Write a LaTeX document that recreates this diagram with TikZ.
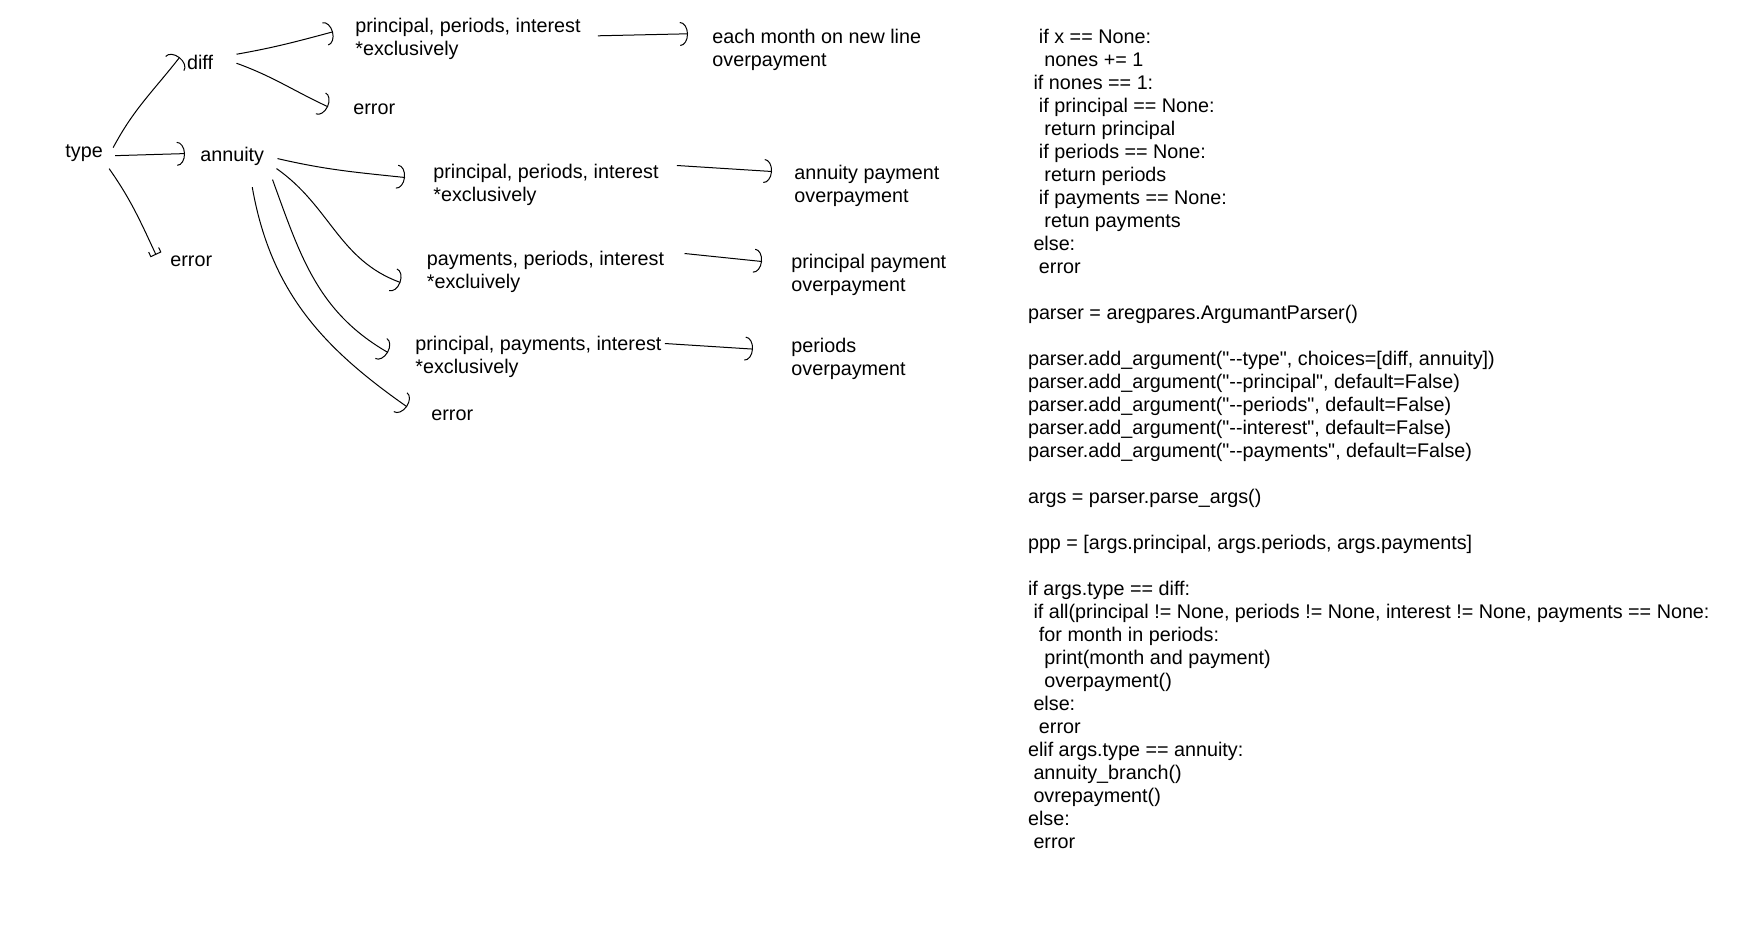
\documentclass[tikz,border=0pt]{standalone}
\usepackage{fontspec}
\newfontfamily\paintfont{Liberation Sans}[Ligatures=NoCommon]
\usetikzlibrary{arrows.meta,positioning,calc}
\newcommand{\codeind}[1]{\hspace*{#1\fontdimen2\font}}
\tikzset{
  % text
  lbl/.style={inner sep=0pt,anchor=base west,font=\paintfont\fontsize{9.88}{11.5}\selectfont},
  lbltwo/.style={inner sep=0pt,anchor=north west,align=left,
                 font=\paintfont\fontsize{9.88}{11.5}\selectfont},
  % pilar
  hd/.style={draw=black,line width=0.5pt,-{Arc Barb[length=4pt,width=12pt]}},
  hdb/.style={draw=black,line width=0.5pt,-{Bracket[length=2.5pt,width=6pt]}},
}
\begin{document}
\begin{tikzpicture}[x=0.5pt,y=0.5pt]
  \useasboundingbox (0,0) rectangle (1760,-930);
  \node[lbl] (type) at (65,-158) {type};
  \node[lbl] (diff) at (186.7,-69.3) {diff};
  \node[lbl] (annuity) at (200,-161.7) {annuity};
  \node[lbl] (errtype) at (170,-267) {error};
  \node[lbltwo] (diffppi) at (355,-17.7) {principal, periods, interest\\*exclusively};
  \node[lbl] (differr) at (353,-115) {error};
  \node[lbltwo] (month) at (712,-28.7) {each month on new line\\overpayment};
  \node[lbltwo] (annone) at (433,-163.4) {principal, periods, interest\\*exclusively};
  \node[lbltwo] (annpay) at (794,-164.4) {annuity payment\\overpayment};
  \node[lbltwo] (anntwo) at (426.5,-250.4) {payments, periods, interest\\*excluively};
  \node[lbltwo] (prinpay) at (791,-253.4) {principal payment\\overpayment};
  \node[lbltwo] (annthree) at (415,-335.4) {principal, payments, interest\\*exclusively};
  \node[lbltwo] (periods) at (791,-338) {periods\\overpayment};
  \node[lbl] (annerr) at (431,-420) {error};
  % kod
  \node[lbltwo] (code) at (1027.6,-28.7) {%
    \codeind{2}if x == None:\\
    \codeind{3}nones += 1\\
    \codeind{1}if nones == 1:\\
    \codeind{2}if principal == None:\\
    \codeind{3}return principal\\
    \codeind{2}if periods == None:\\
    \codeind{3}return periods\\
    \codeind{2}if payments == None:\\
    \codeind{3}retun payments\\
    \codeind{1}else:\\
    \codeind{2}error\\[11.5pt]
    parser = aregpares.ArgumantParser()\\[11.5pt]
    parser.add\_argument("--type", choices=[diff, annuity])\\
    parser.add\_argument("--principal", default=False)\\
    parser.add\_argument("--periods", default=False)\\
    parser.add\_argument("--interest", default=False)\\
    parser.add\_argument("--payments", default=False)\\[11.5pt]
    args = parser.parse\_args()\\[11.5pt]
    ppp = [args.principal, args.periods, args.payments]\\[11.5pt]
    if args.type == diff:\\
    \codeind{1}if all(principal != None, periods != None, interest != None, payments == None:\\
    \codeind{2}for month in periods:\\
    \codeind{3}print(month and payment)\\
    \codeind{3}overpayment()\\
    \codeind{1}else:\\
    \codeind{2}error\\
    elif args.type == annuity:\\
    \codeind{1}annuity\_branch()\\
    \codeind{1}ovrepayment()\\
    else:\\
    \codeind{1}error};
  % pilar
  \draw[hd] ([shift={(10,6)}]type.east) to[out=62,in=232] ([shift={(-7,5)}]diff.west);
  \draw[hd] ([shift={(12,-2)}]type.east) -- ([shift={(-15,3)}]annuity.west);
  \draw[hdb] ([shift={(6,-15)}]type.east) to[out=-55,in=115] ([shift={(-14,7)}]errtype.west);
  \draw[hd] ([shift={(23,8)}]diff.east) to[out=10,in=195] ([shift={(-22,7)}]diffppi.west);
  \draw[hd] ([shift={(23,-1)}]diff.east) to[out=-20,in=155] ([shift={(-25,3)}]differr.west);
  \draw[hd] ([shift={(17,3)}]diffppi.east) -- ([shift={(-24,16)}]month.west);
  \draw[hd] ([shift={(13,-2)}]annuity.east) to[out=-13,in=174] ([shift={(-28,7)}]annone.west);
  \draw[hd] ([shift={(12,-12)}]annuity.east) to[out=-35,in=160] ([shift={(-26,-11)}]anntwo.west);
  \draw[hd] ([shift={(8,-23)}]annuity.east) to[out=-70,in=150] ([shift={(-27,4)}]annthree.west);
  \draw[hd] ([shift={(20,-21)}]annuity.south) to[out=-80,in=145] ([shift={(-24,8)}]annerr.west);
  \draw[hd] ([shift={(18,19)}]annone.east) -- ([shift={(-22,14)}]annpay.west);
  \draw[hd] ([shift={(20,18)}]anntwo.east) -- ([shift={(-29,13)}]prinpay.west);
  \draw[hd] ([shift={(3,13)}]annthree.east) -- ([shift={(-38,10)}]periods.west);
\end{tikzpicture}
\end{document}
